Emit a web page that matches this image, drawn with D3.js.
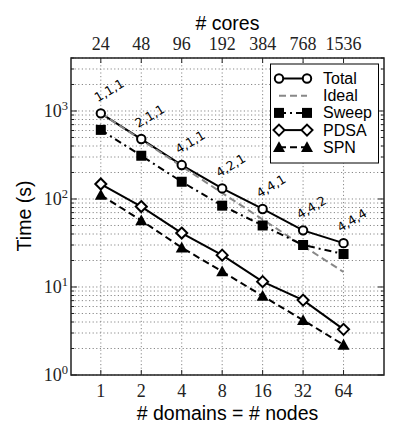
<!DOCTYPE html>
<html>
<head>
<meta charset="utf-8">
<script src="https://cdn.jsdelivr.net/npm/d3@7"></script>
<style>
body{margin:0;background:#fff;}
svg{display:block;}
</style>
</head>
<body>
<svg id="chart" width="399" height="439"></svg>
<script>
const nodes = [1, 2, 4, 8, 16, 32, 64];
const cores = ["24", "48", "96", "192", "384", "768", "1536"];
const total = [940, 480, 243, 132, 77, 44, 31.5];
const ideal = [940, 470, 235, 117, 58.5, 29.3, 14.8];
const sweep = [610, 310, 157, 84, 50, 30, 23.7];
const pdsa = [148, 82, 41, 23, 11.5, 7.1, 3.3];
const spn = [111, 57, 28, 15, 7.9, 4.2, 2.2];
const decomp = ["1,1,1", "2,1,1", "4,1,1", "4,2,1", "4,4,1", "4,4,2", "4,4,4"];
const yTicks = [1, 10, 100, 1000];
const yExp = ["0", "1", "2", "3"];

const svg = d3.select("#chart");
const L = 71, R = 384, T = 58, B = 375;
const x = d3.scaleLog().base(2).domain([0.6, 128]).range([L, R]);
const y = d3.scaleLog().domain([1, 4000]).range([B, T]);

const serif = "'Liberation Serif', 'DejaVu Serif', serif";
const sans = "'Liberation Sans', Arial, sans-serif";

// grid
const minor = [];
for (let d = 1; d <= 1000; d *= 10) for (let k = 1; k <= 9; k++) { const v = d * k; if (v <= 4000) minor.push(v); }
const g = svg.append("g");
g.selectAll("line.gy").data(minor).join("line")
  .attr("x1", L).attr("x2", R).attr("y1", d => y(d)).attr("y2", d => y(d))
  .attr("stroke", "#888").attr("stroke-width", 1).attr("stroke-dasharray", "1.2,2.4");
g.selectAll("line.gx").data(nodes).join("line")
  .attr("y1", T).attr("y2", B).attr("x1", d => x(d)).attr("x2", d => x(d))
  .attr("stroke", "#888").attr("stroke-width", 1).attr("stroke-dasharray", "1.2,2.4");

// ticks (inward)
const tk = svg.append("g").attr("stroke", "#222").attr("stroke-width", 1);
nodes.forEach(n => {
  tk.append("line").attr("x1", x(n)).attr("x2", x(n)).attr("y1", B).attr("y2", B - 5);
  tk.append("line").attr("x1", x(n)).attr("x2", x(n)).attr("y1", T).attr("y2", T + 5);
});
minor.forEach(v => {
  const len = yTicks.includes(v) ? 6 : 3;
  tk.append("line").attr("x1", L).attr("x2", L + len).attr("y1", y(v)).attr("y2", y(v));
  tk.append("line").attr("x1", R).attr("x2", R - len).attr("y1", y(v)).attr("y2", y(v));
});

// series
const line = d3.line().x((d, i) => x(nodes[i])).y(d => y(d));
const series = [
  {name: "Total", data: total, color: "#000", dash: null, marker: "circle"},
  {name: "Ideal", data: ideal, color: "#888", dash: "7,4", marker: null},
  {name: "Sweep", data: sweep, color: "#000", dash: "7,4,2,4", marker: "square"},
  {name: "PDSA", data: pdsa, color: "#000", dash: null, marker: "diamond"},
  {name: "SPN", data: spn, color: "#000", dash: "7,4", marker: "triangle"}
];

function drawMarker(sel, type, cx, cy) {
  if (type === "circle") {
    sel.append("circle").attr("cx", cx).attr("cy", cy).attr("r", 4.2)
      .attr("fill", "#fff").attr("stroke", "#000").attr("stroke-width", 2);
  } else if (type === "square") {
    sel.append("rect").attr("x", cx - 5).attr("y", cy - 5).attr("width", 10).attr("height", 10)
      .attr("fill", "#000");
  } else if (type === "diamond") {
    const s = 5.5;
    sel.append("path").attr("d", `M${cx},${cy - s}L${cx + s},${cy}L${cx},${cy + s}L${cx - s},${cy}Z`)
      .attr("fill", "#fff").attr("stroke", "#000").attr("stroke-width", 2);
  } else if (type === "triangle") {
    const s = 6;
    sel.append("path").attr("d", `M${cx},${cy - s}L${cx + s},${cy + s * 0.8}L${cx - s},${cy + s * 0.8}Z`)
      .attr("fill", "#000");
  }
}

const sg = svg.append("g");
series.forEach(s => {
  sg.append("path").attr("d", line(s.data)).attr("fill", "none")
    .attr("stroke", s.color).attr("stroke-width", 2)
    .attr("stroke-dasharray", s.dash);
});
series.forEach(s => {
  if (!s.marker) return;
  s.data.forEach((v, i) => drawMarker(sg, s.marker, x(nodes[i]), y(v)));
});

// annotations
decomp.forEach((t, i) => {
  const px = x(nodes[i]) - 3, py = y(total[i]) - 11;
  svg.append("text").attr("transform", `translate(${px},${py}) rotate(-31)`)
    .attr("font-family", "'DejaVu Sans', sans-serif").attr("font-size", 12.5).text(t);
});

// frame
svg.append("rect").attr("x", L).attr("y", T).attr("width", R - L).attr("height", B - T)
  .attr("fill", "none").attr("stroke", "#222").attr("stroke-width", 1.5);

// tick labels
svg.selectAll("text.xb").data(nodes).join("text")
  .attr("x", d => x(d)).attr("y", B + 22).attr("text-anchor", "middle")
  .attr("font-family", serif).attr("font-size", 18).attr("fill", "#222").text(d => d);
svg.selectAll("text.xt").data(cores).join("text")
  .attr("x", (d, i) => x(nodes[i])).attr("y", T - 8).attr("text-anchor", "middle")
  .attr("font-family", serif).attr("font-size", 18).attr("fill", "#222").text(d => d);
yTicks.forEach((v, i) => {
  const t = svg.append("text").attr("x", L - 3).attr("y", y(v) + 6).attr("text-anchor", "end")
    .attr("font-family", serif).attr("font-size", 18).attr("fill", "#222");
  t.append("tspan").text("10");
  t.append("tspan").attr("dy", -7).attr("font-size", 12.5).text(yExp[i]);
});

// axis titles
svg.append("text").attr("x", (L + R) / 2).attr("y", 30).attr("text-anchor", "middle")
  .attr("font-family", sans).attr("font-size", 19.5).text("# cores");
svg.append("text").attr("x", (L + R) / 2).attr("y", 420).attr("text-anchor", "middle")
  .attr("font-family", sans).attr("font-size", 19.5).text("# domains = # nodes");
svg.append("text").attr("transform", "translate(31,216) rotate(-90)").attr("text-anchor", "middle")
  .attr("font-family", sans).attr("font-size", 19.5).text("Time (s)");

// legend
const lg = svg.append("g");
lg.append("rect").attr("x", 270.5).attr("y", 64).attr("width", 108).attr("height", 99)
  .attr("fill", "#fff").attr("stroke", "#000").attr("stroke-width", 1);
series.forEach((s, i) => {
  const ly = 78.5 + i * 17.2;
  lg.append("line").attr("x1", 279).attr("x2", 307).attr("y1", ly).attr("y2", ly)
    .attr("stroke", s.color).attr("stroke-width", 2).attr("stroke-dasharray", s.dash);
  if (s.marker) { drawMarker(lg, s.marker, 279, ly); drawMarker(lg, s.marker, 307, ly); }
  lg.append("text").attr("x", 323).attr("y", ly + 5.5).attr("font-family", sans)
    .attr("font-size", 16).text(s.name);
});
</script>
</body>
</html>
